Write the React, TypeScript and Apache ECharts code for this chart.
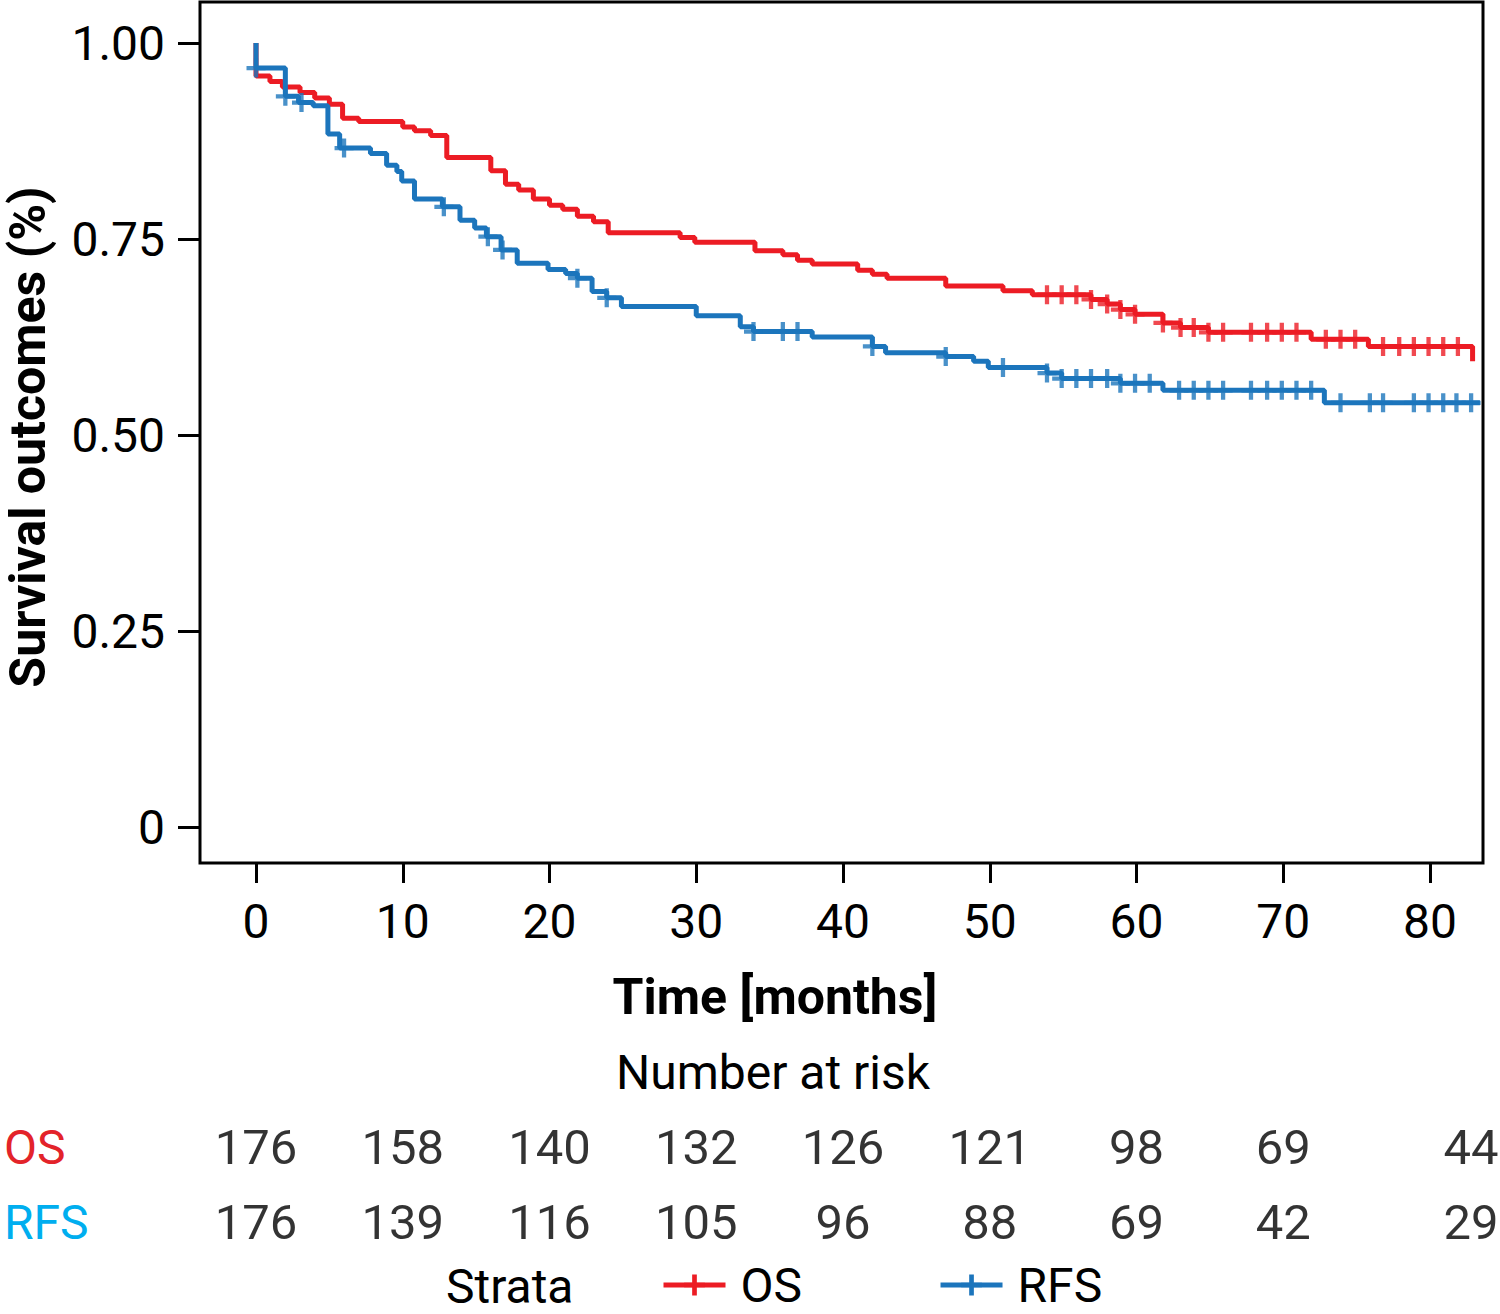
import { useEffect, useRef } from 'react';
import * as echarts from 'echarts';

const RED = '#ec1c24';
const BLUE = '#1c75bc';
const CYAN = '#00aeef';
const FONT = 'Roboto';

// Kaplan-Meier steps: [months, survival from that time on]
const osSteps = [
  [0, 1], [0, 0.958], [0.95, 0.951], [1.8, 0.944], [3, 0.937], [4, 0.93], [5, 0.922],
  [5.9, 0.904], [7, 0.9], [10, 0.893], [10.8, 0.888], [11.9, 0.882], [13, 0.854],
  [16, 0.837], [17, 0.82], [17.9, 0.8125], [18.9, 0.801], [20, 0.793], [20.9, 0.788],
  [21.9, 0.779], [23, 0.772], [24, 0.758], [28.9, 0.752], [29.9, 0.746], [34, 0.735],
  [35.9, 0.73], [36.9, 0.723], [37.9, 0.718], [41, 0.71], [42, 0.705], [43, 0.7],
  [47, 0.69], [50.9, 0.684], [52.9, 0.679], [56.9, 0.673], [58, 0.667], [58.9, 0.66],
  [59.9, 0.654], [61.8, 0.643], [63, 0.637], [64.9, 0.631], [71.9, 0.622], [75.8, 0.613],
  [82.9, 0.594],
];

const rfsSteps = [
  [0, 1], [0, 0.968], [2, 0.932], [2.9, 0.924], [3.9, 0.92], [4.9, 0.884], [5.7, 0.866],
  [7.8, 0.859], [8.9, 0.844], [9.6, 0.836], [9.93, 0.824], [10.8, 0.801], [12.7, 0.791],
  [13.9, 0.774], [14.9, 0.764], [15.7, 0.753], [16.7, 0.736], [17.8, 0.719], [19.9, 0.711],
  [21.1, 0.706], [21.9, 0.7], [22.9, 0.683], [23.9, 0.675], [24.9, 0.664], [30, 0.652],
  [33, 0.638], [33.9, 0.632], [37.9, 0.625], [42, 0.613], [42.9, 0.605], [47, 0.6],
  [48.9, 0.594], [49.9, 0.586], [53.9, 0.579], [54.9, 0.572], [58.9, 0.566], [61.8, 0.557],
  [72.8, 0.541], [83.4, 0.541],
];

// censoring times (months)
const osCensored = [
  53.9, 54.9, 55.9, 56.9, 58, 58.9, 59.9, 61.8, 63, 63.9, 64.9, 65.9, 67.8, 68.9, 69.9,
  70.9, 72.9, 73.9, 74.9, 76.8, 77.9, 78.9, 79.9, 80.9, 81.9,
];
const rfsCensored = [
  0, 2, 3.1, 6, 12.8, 15.8, 16.8, 21.9, 23.9, 33.9, 35.9, 36.9, 42, 47, 50.9, 53.9, 54.9,
  55.9, 56.9, 58, 58.9, 59.9, 60.9, 62.9, 63.9, 64.9, 65.9, 67.8, 68.9, 69.9, 70.9, 71.9,
  73.9, 75.9, 76.8, 78.9, 79.9, 80.9, 81.8, 82.8,
];

const xTicks = [0, 10, 20, 30, 40, 50, 60, 70, 80];
const yTicks = [0, 0.25, 0.5, 0.75, 1];
const yTickLabels = ['0', '0.25', '0.50', '0.75', '1.00'];

const riskTimes = [0, 10, 20, 30, 40, 50, 60, 70, 80];
const osAtRisk = [176, 158, 140, 132, 126, 121, 98, 69, 44];
const rfsAtRisk = [176, 139, 116, 105, 96, 88, 69, 42, 29];

const CROSS =
  'path://M0,6.2L6.2,6.2L6.2,0L9.8,0L9.8,6.2L16,6.2L16,9.8L9.8,9.8L9.8,16L6.2,16L6.2,9.8L0,9.8Z';

// survival level of a step curve at time t
function levelAt(steps: number[][], t: number) {
  let s = steps[0][1];
  for (const [time, value] of steps) {
    if (time <= t) s = value;
  }
  return s;
}

function riskRow(counts: number[], row: number) {
  return riskTimes.map((t, i) => ({
    value: [t, row, counts[i]],
    // the last column sits right of its tick in the original
    label: i === riskTimes.length - 1 ? { offset: [41, 0] } : undefined,
  }));
}

export default function App() {
  const chartRef = useRef<HTMLDivElement>(null);

  useEffect(() => {
    if (!chartRef.current) return;
    const chart = echarts.init(chartRef.current, undefined, { renderer: 'svg' });

    const riskLabel = {
      show: true,
      position: 'inside',
      formatter: (p: any) => String(p.value[2]),
      fontSize: 49,
      fontFamily: FONT,
      color: '#000',
    };

    const option: any = {
      animation: false,
      backgroundColor: '#fff',
      textStyle: { fontFamily: FONT },
      grid: [
        { left: 200, top: 2, width: 1283, height: 861, show: true, borderColor: '#000', borderWidth: 3 },
        { left: 200, top: 1147, width: 1283, height: 75 },
      ],
      xAxis: [
        {
          type: 'value',
          gridIndex: 0,
          min: -3.816,
          max: 83.61,
          axisLine: { show: false, onZero: false },
          splitLine: { show: false },
          axisTick: { show: true, length: 20, lineStyle: { color: '#000', width: 3 }, customValues: xTicks },
          axisLabel: { customValues: xTicks, fontSize: 48, fontFamily: FONT, color: '#000', margin: 34 },
        },
        { type: 'value', gridIndex: 1, min: -3.816, max: 83.61, show: false },
      ],
      yAxis: [
        {
          type: 'value',
          gridIndex: 0,
          min: -0.0459,
          max: 1.0523,
          axisLine: { show: false, onZero: false },
          splitLine: { show: false },
          axisTick: { show: true, length: 22, lineStyle: { color: '#000', width: 3 }, customValues: yTicks },
          axisLabel: {
            customValues: yTicks,
            fontSize: 48,
            fontFamily: FONT,
            color: '#000',
            margin: 35,
            formatter: (v: number) => yTickLabels[yTicks.findIndex((y) => Math.abs(y - v) < 1e-6)] ?? '',
          },
        },
        { type: 'value', gridIndex: 1, min: 0, max: 1, show: false },
      ],
      legend: {
        data: ['OS', 'RFS'],
        left: 656,
        top: 1256,
        itemWidth: 62,
        itemHeight: 26,
        itemGap: 136,
        selectedMode: false,
        lineStyle: { width: 5 },
        textStyle: { fontSize: 48, lineHeight: 48, fontFamily: FONT, color: '#000', padding: [0, 0, 0, 10] },
      },
      graphic: [
        {
          type: 'text',
          x: 28,
          y: 437,
          rotation: Math.PI / 2,
          style: {
            text: 'Survival outcomes (%)', font: `bold 50px ${FONT}`, lineHeight: 50,
            fill: '#000', align: 'center', verticalAlign: 'middle',
          },
        },
        {
          type: 'text',
          x: 775,
          y: 997,
          style: { text: 'Time [months]', font: `bold 50px ${FONT}`, fill: '#000', align: 'center', verticalAlign: 'middle' },
        },
        {
          type: 'text',
          x: 773,
          y: 1072,
          style: { text: 'Number at risk', font: `48px ${FONT}`, fill: '#000', align: 'center', verticalAlign: 'middle' },
        },
        {
          type: 'text',
          x: 4,
          y: 1147,
          style: { text: 'OS', font: `48px ${FONT}`, fill: '#e3232a', align: 'left', verticalAlign: 'middle' },
        },
        {
          type: 'text',
          x: 4,
          y: 1222,
          style: { text: 'RFS', font: `48px ${FONT}`, fill: CYAN, align: 'left', verticalAlign: 'middle' },
        },
        {
          type: 'text',
          x: 446,
          y: 1286,
          style: {
            text: 'Strata', font: `48px ${FONT}`, lineHeight: 48,
            fill: '#000', align: 'left', verticalAlign: 'middle',
          },
        },
      ],
      series: [
        {
          name: 'OS',
          type: 'line',
          step: 'end',
          data: osSteps,
          showSymbol: false,
          symbol: CROSS,
          color: RED,
          lineStyle: { color: RED, width: 5 },
          silent: true,
          z: 2,
        },
        {
          name: 'RFS',
          type: 'line',
          step: 'end',
          data: rfsSteps,
          showSymbol: false,
          symbol: CROSS,
          color: BLUE,
          lineStyle: { color: BLUE, width: 5 },
          silent: true,
          z: 3,
        },
        {
          name: 'OS censored',
          type: 'scatter',
          data: osCensored.map((t) => [t, levelAt(osSteps, t)]),
          symbol: CROSS,
          symbolSize: 19,
          itemStyle: { color: RED },
          silent: true,
          z: 4,
        },
        {
          name: 'RFS censored',
          type: 'scatter',
          data: rfsCensored.map((t) => [t, levelAt(rfsSteps, t)]),
          symbol: CROSS,
          symbolSize: 19,
          itemStyle: { color: BLUE },
          silent: true,
          z: 5,
        },
        {
          name: 'OS at risk',
          type: 'scatter',
          xAxisIndex: 1,
          yAxisIndex: 1,
          data: riskRow(osAtRisk, 1),
          symbolSize: 1,
          itemStyle: { color: 'rgba(0,0,0,0)' },
          label: riskLabel,
          silent: true,
        },
        {
          name: 'RFS at risk',
          type: 'scatter',
          xAxisIndex: 1,
          yAxisIndex: 1,
          data: riskRow(rfsAtRisk, 0),
          symbolSize: 1,
          itemStyle: { color: 'rgba(0,0,0,0)' },
          label: riskLabel,
          silent: true,
        },
      ],
    };

    chart.setOption(option);

    return () => {
      chart.dispose();
    };
  }, []);

  return (
    <div
      ref={chartRef}
      style={{ position: 'absolute', left: 0, top: 0, width: '1500px', height: '1314px' }}
    />
  );
}
